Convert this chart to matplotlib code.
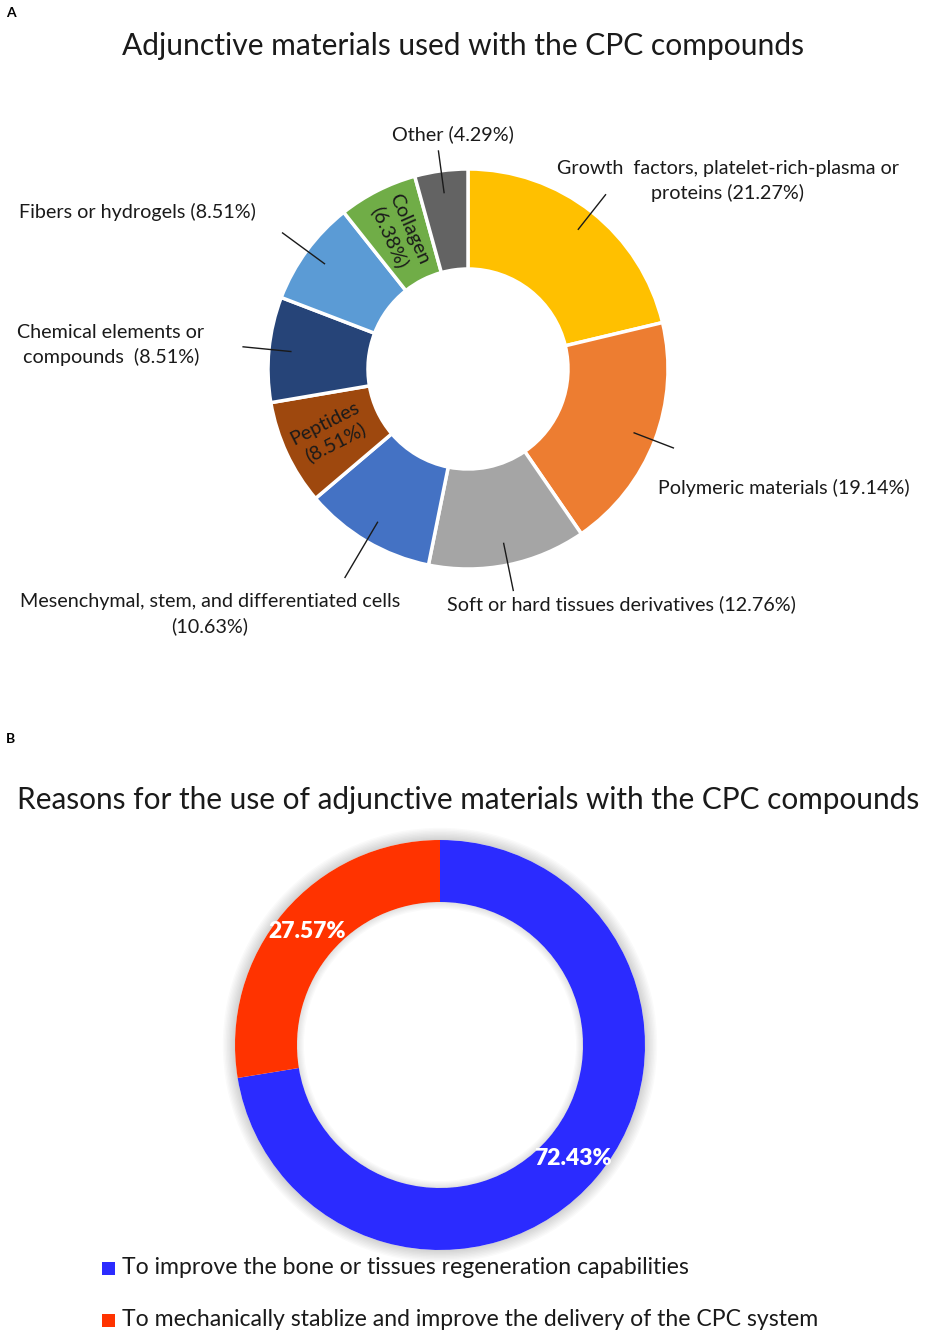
import matplotlib.pyplot as plt
from matplotlib.patches import Wedge
import numpy as np

# panel A data
labels_a = ["Growth  factors, platelet-rich-plasma or\nproteins (21.27%)",
            "Polymeric materials (19.14%)",
            "Soft or hard tissues derivatives (12.76%)",
            "Mesenchymal, stem, and differentiated cells\n(10.63%)",
            "Peptides\n(8.51%)",
            "Chemical elements or\ncompounds  (8.51%)",
            "Fibers or hydrogels (8.51%)",
            "Collagen\n(6.38%)",
            "Other (4.29%)"]
values_a = [21.27, 19.14, 12.76, 10.63, 8.51, 8.51, 8.51, 6.38, 4.29]
colors_a = ["#FFC000", "#ED7D31", "#A5A5A5", "#4472C4", "#9E480E",
            "#264478", "#5B9BD5", "#70AD47", "#636363"]

# panel B data
labels_b = ["To improve the bone or tissues regeneration capabilities",
            "To mechanically stablize and improve the delivery of the CPC system"]
values_b = [72.43, 27.57]
colors_b = ["#2B2BFF", "#FF3300"]

W, H = 929, 1339
plt.rcParams['font.family'] = ['Lato', 'DejaVu Sans']

fig = plt.figure(figsize=(W / 100, H / 100), dpi=100)
ax = fig.add_axes([0, 0, 1, 1])

def Y(y):
    return H - y  # pixel row -> data y

# ---------- panel A ----------
ca = (468, Y(369))
ra = 200
wedges_a, _ = ax.pie(values_a, colors=colors_a, startangle=90, counterclock=False,
                     radius=ra, center=ca,
                     wedgeprops=dict(width=100, edgecolor="white", linewidth=2.5))

# label placement (pixel coords), None -> inside the ring
txt_pos = [(728, 181, "center"), (658, 488, "left"), (447, 604, "left"),
           (210, 614, "center"), None, (111, 345, "center"),
           (19, 212, "left"), None, (453, 134, "center")]
lead_out = [1.11, 1.10, 1.13, 1.21, None, 1.13, 1.15, None, 1.10]
inside_rot = {4: 27, 7: -66}
fs_a = 14.2

for i, w in enumerate(wedges_a):
    th = np.deg2rad((w.theta1 + w.theta2) / 2)
    if txt_pos[i] is None:
        r = 152
        ax.text(ca[0] + r * np.cos(th), ca[1] + r * np.sin(th), labels_a[i],
                ha="center", va="center", rotation=inside_rot[i], fontsize=fs_a,
                color="#1a1a1a", linespacing=1.25, multialignment="center")
        continue
    x, y, ha = txt_pos[i]
    ax.text(x, Y(y), labels_a[i], ha=ha, va="center", fontsize=fs_a,
            color="#1a1a1a", linespacing=1.48, multialignment="center")
    r1, r2 = 0.89 * ra, lead_out[i] * ra
    ax.plot([ca[0] + r1 * np.cos(th), ca[0] + r2 * np.cos(th)],
            [ca[1] + r1 * np.sin(th), ca[1] + r2 * np.sin(th)],
            color="#1a1a1a", lw=1)

ax.text(463, Y(46), "Adjunctive materials used with the CPC compounds",
        ha="center", va="center", fontsize=21.6, color="#1a1a1a")
ax.text(6, Y(13), "A", ha="left", va="center", fontsize=10, fontweight="bold")

# ---------- panel B ----------
cb = (440, Y(1045))
rb = 205
rin = 143
# soft shadow round the ring, outside and inside
for k in range(9):
    ax.add_patch(plt.Circle(cb, rb + 1 + k * 1.4, color="black", alpha=0.02, lw=0))
ax.add_patch(plt.Circle(cb, rb, color="white", lw=0))
wedges_b, _ = ax.pie(values_b, colors=colors_b, startangle=90, counterclock=False,
                     radius=rb, center=cb, wedgeprops=dict(width=rb - rin, linewidth=0))
for k in range(6):
    ax.add_patch(Wedge(cb, rin, 0, 360, width=1 + k * 1.2, color="black",
                       alpha=0.02, lw=0))
for w, v in zip(wedges_b, values_b):
    th = np.deg2rad((w.theta1 + w.theta2) / 2)
    r = 175
    ax.text(cb[0] + r * np.cos(th), cb[1] + r * np.sin(th), f"{v:.2f}%",
            ha="center", va="center", fontsize=16.5, fontweight="heavy", color="white")

ax.text(468, Y(800), "Reasons for the use of adjunctive materials with the CPC compounds",
        ha="center", va="center", fontsize=21.4, color="#1a1a1a")
ax.text(6, Y(739), "B", ha="left", va="center", fontsize=10, fontweight="bold")

for i, (lab, c) in enumerate(zip(labels_b, colors_b)):
    yy = Y(1268 + i * 52)
    ax.add_patch(plt.Rectangle((102, yy - 6.5), 13, 13, color=c, lw=0))
    ax.text(122, yy, lab, ha="left", va="center", fontsize=16.6, color="#1a1a1a")

ax.set_xlim(0, W)
ax.set_ylim(0, H)
ax.set_aspect("equal")
ax.axis("off")

fig.savefig("out.png", dpi=100, facecolor="white")
